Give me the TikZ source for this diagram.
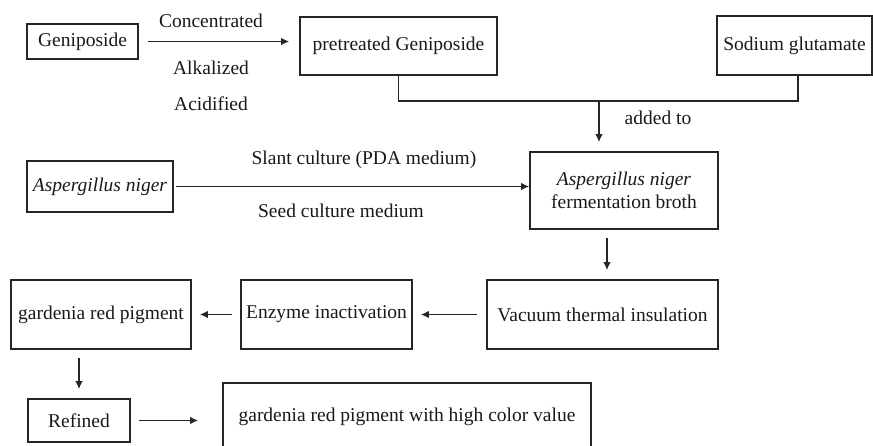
\documentclass[tikz,border=0pt]{standalone}
\usepackage{fontspec}
\setmainfont{Liberation Serif}
\usetikzlibrary{arrows.meta}
\begin{document}
\begin{tikzpicture}[x=1pt,y=1pt,
  every node/.style={font=\fontsize{19.5}{23}\selectfont, text=black!90},
  box/.style={draw=black!85, line width=1.6pt, rectangle, inner sep=0pt, align=center},
  flow/.style={draw=black!85, line width=1.5pt, -{Latex[length=8pt,width=7.5pt]}},
  link/.style={draw=black!85, line width=1.5pt}]
\useasboundingbox (0,0) rectangle (873,-445);
\clip (0,0) rectangle (873,-445);

% boxes
\node[box, minimum width=111, minimum height=35] (geni) at (82.5,-41.5) {Geniposide};
\node[box, minimum width=197, minimum height=58] (pre) at (398.5,-46) {pretreated Geniposide};
\node[box, minimum width=155, minimum height=59] (sod) at (794.5,-45.5) {Sodium glutamate};
\node[box, minimum width=146, minimum height=51] (asp) at (100,-186.5) {\itshape Aspergillus niger};
\node[box, minimum width=188, minimum height=77] (fer) at (624,-190.5) {\textit{Aspergillus niger}\\fermentation broth};
\node[box, minimum width=231, minimum height=69] (vac) at (602.5,-314.5) {Vacuum thermal insulation};
\node[box, minimum width=171, minimum height=69] (enz) at (326.5,-314.5) {Enzyme inactivation};
\node[box, minimum width=180, minimum height=69] (gar) at (101,-314.5) {gardenia red pigment};
\node[box, minimum width=102, minimum height=43] (ref) at (79,-420.5) {Refined};
\node[box, minimum width=368, minimum height=67] (fin) at (407,-416.5) {gardenia red pigment with high color value};

% pretreatment
\draw[flow, shorten <=9pt, shorten >=10pt] (geni.east) -- (geni.east -| pre.west);
\node (conc) at (211,-21) {Concentrated};
\node (alk) at (211,-68) {Alkalized};
\node (acid) at (211,-104) {Acidified};

% joining both inputs
\coordinate (join) at (599,-101);
\draw[link] (pre.south) |- (join) -| ([xshift=3.5pt]sod.south);
\draw[flow, shorten >=9pt] (join) -- (join |- fer.north);
\node (added) at (658,-118) {added to};

% culture
\draw[flow, shorten <=2pt] (asp.east) -- (asp.east -| fer.west);
\node (slant) at (364,-160) {Slant culture (PDA medium)};
\node (seed) at (341,-211) {Seed culture medium};

% processing chain
\draw[flow, shorten <=8pt, shorten >=9pt] ([xshift=-17pt]fer.south) -- ([xshift=-17pt]fer.south |- vac.north);
\draw[flow, shorten <=9pt, shorten >=8pt] (vac.west) -- (enz.east);
\draw[flow, shorten <=8pt, shorten >=8pt] (enz.west) -- (gar.east);
\draw[flow, shorten <=8pt, shorten >=9pt] (ref.north |- gar.south) -- (ref.north);
\draw[flow, shorten <=8pt, shorten >=24pt] (ref.east) -- (ref.east -| fin.west);
\end{tikzpicture}
\end{document}
